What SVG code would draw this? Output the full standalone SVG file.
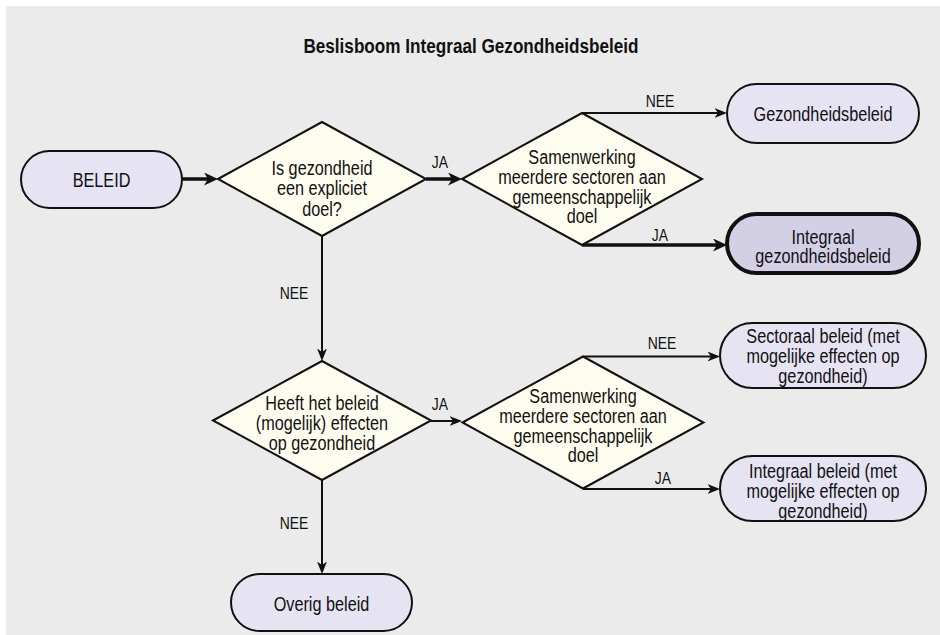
<svg xmlns="http://www.w3.org/2000/svg" width="940" height="635" viewBox="0 0 940 635">
<defs>
<style>
text{font-family:"Liberation Sans",Arial,sans-serif;fill:#111;text-anchor:middle}
.t{font-size:19.8px}
.lbl{font-size:17px}
.title{font-size:20.9px;font-weight:bold}
.pill{fill:#e6e4f2;stroke:#111;stroke-width:2}
.pill2{fill:#d3d0e6;stroke:#111;stroke-width:4}
.dia{fill:#fffdf0;stroke:#111;stroke-width:2}
.thick{stroke:#111;stroke-width:3.5;fill:none;marker-end:url(#ah)}
.thin{stroke:#111;stroke-width:2;fill:none;marker-end:url(#as)}
</style>
<marker id="ah" markerUnits="userSpaceOnUse" markerWidth="15" markerHeight="13" refX="4" refY="6.5" orient="auto">
<path d="M0,0 L14,6.5 L0,13 L4,6.5 z" fill="#111"/>
</marker>
<marker id="as" markerUnits="userSpaceOnUse" markerWidth="13" markerHeight="11" refX="3.5" refY="5" orient="auto">
<path d="M0,0 L12.5,5 L0,10 L3.5,5 z" fill="#111"/>
</marker>
</defs>
<rect x="6" y="6" width="934" height="629" fill="#ebebeb"/>
<text class="title" transform="translate(471,53) scale(0.82,1)">Beslisboom Integraal Gezondheidsbeleid</text>

<g id="connectors">
<line class="thick" x1="182" y1="179" x2="208" y2="179"/>
<line class="thick" x1="426" y1="179" x2="452" y2="179"/>
<line class="thin" x1="582" y1="113" x2="718" y2="113"/>
<line class="thick" x1="582" y1="245" x2="717" y2="245"/>
<line class="thin" x1="322" y1="236" x2="322" y2="352"/>
<line class="thin" x1="431" y1="421" x2="453" y2="421"/>
<line class="thin" x1="583" y1="356.5" x2="711" y2="356.5"/>
<line class="thin" x1="583" y1="489" x2="711" y2="489"/>
<line class="thin" x1="322" y1="480" x2="322" y2="565"/>
<text class="lbl" transform="translate(440,168) scale(0.82,1)">JA</text>
<text class="lbl" transform="translate(660,107) scale(0.82,1)">NEE</text>
<text class="lbl" transform="translate(660,241) scale(0.82,1)">JA</text>
<text class="lbl" transform="translate(294,299) scale(0.82,1)">NEE</text>
<text class="lbl" transform="translate(440,410) scale(0.82,1)">JA</text>
<text class="lbl" transform="translate(662,349) scale(0.82,1)">NEE</text>
<text class="lbl" transform="translate(663,484) scale(0.82,1)">JA</text>
<text class="lbl" transform="translate(294,529) scale(0.82,1)">NEE</text>
</g>

<g id="beleid">
<rect class="pill" x="21" y="151" width="161" height="57" rx="28.5"/>
<text class="t" transform="translate(101.5,187) scale(0.82,1)">BELEID</text>
</g>

<g id="d1">
<polygon class="dia" points="218,179 322,122 426,179 322,236"/>
<text class="t" transform="translate(322,174.5) scale(0.82,1)">Is gezondheid</text>
<text class="t" transform="translate(322,195) scale(0.82,1)">een expliciet</text>
<text class="t" transform="translate(322,215.5) scale(0.82,1)">doel?</text>
</g>

<g id="d2">
<polygon class="dia" points="462,179 582,113 702,179 582,245"/>
<text class="t" transform="translate(582,164) scale(0.82,1)">Samenwerking</text>
<text class="t" transform="translate(582,184) scale(0.82,1)">meerdere sectoren aan</text>
<text class="t" transform="translate(582,203.5) scale(0.82,1)">gemeenschappelijk</text>
<text class="t" transform="translate(582,222.5) scale(0.82,1)">doel</text>
</g>

<g id="gezondheidsbeleid">
<rect class="pill" x="727" y="84" width="192" height="59" rx="29.5"/>
<text class="t" transform="translate(823,121) scale(0.82,1)">Gezondheidsbeleid</text>
</g>

<g id="integraal-gezondheidsbeleid">
<rect class="pill2" x="727" y="214" width="192" height="59" rx="29.5"/>
<text class="t" transform="translate(823,243.5) scale(0.82,1)">Integraal</text>
<text class="t" transform="translate(823,263) scale(0.82,1)">gezondheidsbeleid</text>
</g>

<g id="d3">
<polygon class="dia" points="213,420.5 322,361 431,420.5 322,480"/>
<text class="t" transform="translate(322,410) scale(0.82,1)">Heeft het beleid</text>
<text class="t" transform="translate(322,430) scale(0.82,1)">(mogelijk) effecten</text>
<text class="t" transform="translate(322,450) scale(0.82,1)">op gezondheid</text>
</g>

<g id="d4">
<polygon class="dia" points="462.5,422.5 583,356.5 703.5,422.5 583,488.5"/>
<text class="t" transform="translate(583,403) scale(0.82,1)">Samenwerking</text>
<text class="t" transform="translate(583,423) scale(0.82,1)">meerdere sectoren aan</text>
<text class="t" transform="translate(583,443) scale(0.82,1)">gemeenschappelijk</text>
<text class="t" transform="translate(583,462) scale(0.82,1)">doel</text>
</g>

<g id="sectoraal">
<rect class="pill" x="720" y="323" width="206" height="65" rx="32.5"/>
<text class="t" transform="translate(823,343) scale(0.82,1)">Sectoraal beleid (met</text>
<text class="t" transform="translate(823,363) scale(0.82,1)">mogelijke effecten op</text>
<text class="t" transform="translate(823,383) scale(0.82,1)">gezondheid)</text>
</g>

<g id="integraal-beleid">
<rect class="pill" x="720" y="456" width="206" height="65" rx="32.5"/>
<text class="t" transform="translate(823,477.5) scale(0.82,1)">Integraal beleid (met</text>
<text class="t" transform="translate(823,497.5) scale(0.82,1)">mogelijke effecten op</text>
<text class="t" transform="translate(823,517.5) scale(0.82,1)">gezondheid)</text>
</g>

<g id="overig">
<rect class="pill" x="231" y="574" width="181" height="57" rx="28.5"/>
<text class="t" transform="translate(321.5,611) scale(0.82,1)">Overig beleid</text>
</g>
</svg>
